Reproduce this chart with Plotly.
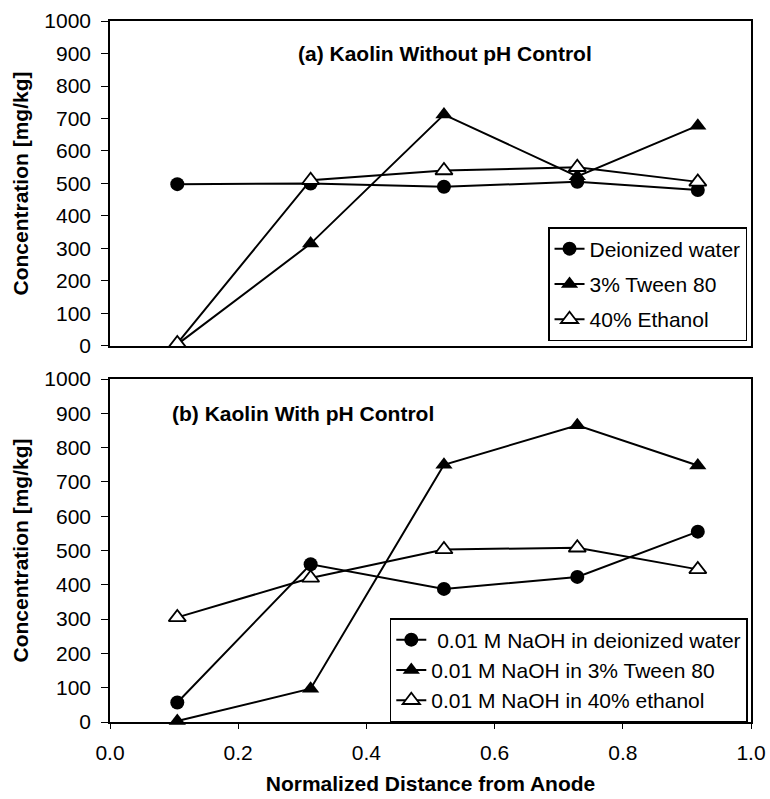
import plotly.graph_objects as go

# ---- data ----
x_pos = [0.105, 0.313, 0.521, 0.729, 0.917]

a_names = ["Deionized water", "3% Tween 80", "40% Ethanol"]
a_water = [498, 500, 490, 505, 480]
a_tween = [5, 315, 712, 522, 678]
a_ethanol = [8, 510, 540, 550, 505]

b_names = [" 0.01 M NaOH in deionized water", "0.01 M NaOH in 3% Tween 80", "0.01 M NaOH in 40% ethanol"]
b_water = [57, 460, 388, 423, 555]
b_tween = [3, 97, 750, 865, 748]
b_ethanol = [305, 420, 503, 508, 445]

x_ticks = [0.0, 0.2, 0.4, 0.6, 0.8, 1.0]
x_ticklabels = ["0.0", "0.2", "0.4", "0.6", "0.8", "1.0"]
y_ticks = list(range(0, 1001, 100))

symbols = ["circle", "triangle-up", "triangle-up-open"]
FONT = "Liberation Sans, Arial, sans-serif"
FS = 21

fig = go.Figure()


def add_series(ys, name, sym, xa, ya, legend, grp):
    open_ = sym.endswith("open")
    fig.add_trace(go.Scatter(
        x=x_pos, y=ys, name=name, mode="lines+markers",
        xaxis=xa, yaxis=ya, legend=legend, legendgroup=grp,
        cliponaxis=False,
        line=dict(color="black", width=2),
        marker=dict(symbol="triangle-up" if open_ else sym,
                    size=15 if "triangle" in sym else 14,
                    color="white" if open_ else "black",
                    line=dict(color="black", width=1.8 if open_ else 0)),
    ))


for ys, nm, sym, g in zip([a_water, a_tween, a_ethanol], a_names, symbols, ["a1", "a2", "a3"]):
    add_series(ys, nm, sym, "x", "y", "legend", g)
for ys, nm, sym, g in zip([b_water, b_tween, b_ethanol], b_names, symbols, ["b1", "b2", "b3"]):
    add_series(ys, nm, sym, "x2", "y2", "legend2", g)

axis_common = dict(showgrid=False, zeroline=False, showline=True, linecolor="black",
                   linewidth=1.5, mirror=True, automargin=False,
                   tickfont=dict(family=FONT, size=FS, color="black"))

fig.update_layout(
    width=770, height=799,
    margin=dict(l=110, r=19, t=21, b=77, autoexpand=False),
    paper_bgcolor="white", plot_bgcolor="white",
    font=dict(family=FONT, size=FS, color="black"),
    xaxis=dict(domain=[0, 1], anchor="y", range=[0, 1], tickvals=x_ticks,
               showticklabels=False, ticks="", **axis_common),
    yaxis=dict(domain=[0.5364, 1], anchor="x", range=[0, 1000], tickvals=y_ticks,
               ticks="outside", ticklen=7, tickcolor="black", ticklabelstandoff=6,
               title=dict(text="<b>Concentration [mg/kg]</b>", font=dict(size=FS), standoff=10),
               **axis_common),
    xaxis2=dict(domain=[0, 1], anchor="y2", range=[0, 1], tickvals=x_ticks, ticktext=x_ticklabels,
                ticks="outside", ticklen=5, tickcolor="black", ticklabelstandoff=6,
                title=dict(text="<b>Normalized Distance from Anode</b>", font=dict(size=FS), standoff=13),
                **axis_common),
    yaxis2=dict(domain=[0, 0.4893], anchor="x2", range=[0, 1000], tickvals=y_ticks,
                ticks="outside", ticklen=7, tickcolor="black", ticklabelstandoff=6,
                title=dict(text="<b>Concentration [mg/kg]</b>", font=dict(size=FS), standoff=10),
                **axis_common),
    legend=dict(x=0.9938, y=0.5435, xanchor="right", yanchor="bottom",
                bordercolor="black", borderwidth=1.5, bgcolor="white",
                font=dict(size=FS), tracegroupgap=5, itemwidth=30),
    legend2=dict(x=0.995, y=0.0, xanchor="right", yanchor="bottom",
                 bordercolor="black", borderwidth=1.5, bgcolor="white",
                 font=dict(size=FS), tracegroupgap=0, itemwidth=30),
    annotations=[
        dict(text="<b>(a) Kaolin Without pH Control</b>", xref="paper", yref="paper",
             x=(445 - 110) / 641, y=(722 - 53) / 701, showarrow=False,
             font=dict(size=FS), xanchor="center", yanchor="middle"),
        dict(text="<b>(b) Kaolin With pH Control</b>", xref="paper", yref="paper",
             x=(303 - 110) / 641, y=(722 - 413) / 701, showarrow=False,
             font=dict(size=FS), xanchor="center", yanchor="middle"),
    ],
)

fig.write_html("out.html")
